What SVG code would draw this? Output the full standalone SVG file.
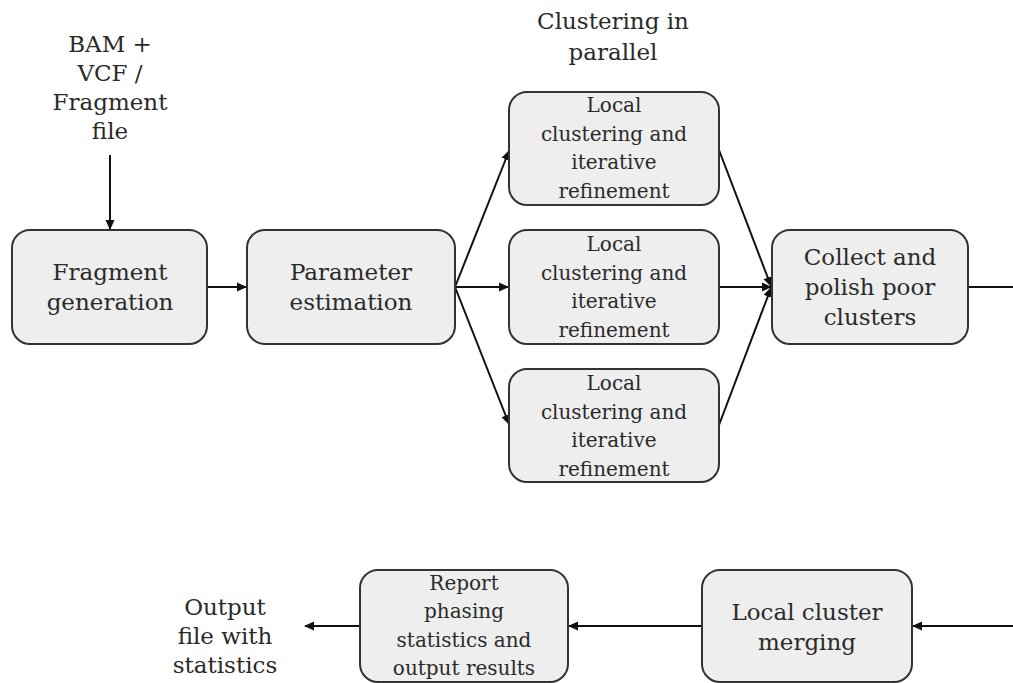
<svg xmlns="http://www.w3.org/2000/svg" width="1013" height="683" viewBox="0 0 1013 683">
<defs>
<style>
.box{fill:#eeeeee;stroke:#333;stroke-width:2}
text{font-family:"DejaVu Serif","Liberation Serif",serif;fill:#2a2a2a;text-anchor:middle}
.big{font-size:23px}
.sm{font-size:20px}
.c{stroke:#111;stroke-width:2;fill:none}
</style>
<marker id="a" markerWidth="10" markerHeight="10" refX="9" refY="5" orient="auto" markerUnits="userSpaceOnUse"><path d="M0,0.5 L10,5 L0,9.5 Z" fill="#111"/></marker>
</defs>
<g id="connectors">
<line class="c" x1="110" y1="155" x2="110" y2="229" marker-end="url(#a)"/>
<line class="c" x1="207" y1="287" x2="246" y2="287" marker-end="url(#a)"/>
<line class="c" x1="455" y1="287" x2="509" y2="151" marker-end="url(#a)"/>
<line class="c" x1="455" y1="287" x2="508" y2="287" marker-end="url(#a)"/>
<line class="c" x1="455" y1="287" x2="509" y2="424" marker-end="url(#a)"/>
<line class="c" x1="719" y1="150" x2="771" y2="286" marker-end="url(#a)"/>
<line class="c" x1="719" y1="287" x2="771" y2="287" marker-end="url(#a)"/>
<line class="c" x1="719" y1="425" x2="771" y2="288" marker-end="url(#a)"/>
<line class="c" x1="968" y1="287" x2="1013" y2="287"/>
<line class="c" x1="1013" y1="626" x2="913" y2="626" marker-end="url(#a)"/>
<line class="c" x1="702" y1="626" x2="569" y2="626" marker-end="url(#a)"/>
<line class="c" x1="360" y1="626" x2="305" y2="626" marker-end="url(#a)"/>
</g>
<g id="input">
<text class="big"><tspan x="110" y="52">BAM +</tspan><tspan x="110" y="81">VCF /</tspan><tspan x="110" y="110">Fragment</tspan><tspan x="110" y="139">file</tspan></text>
</g>
<g id="parallel-label">
<text class="big"><tspan x="613" y="29">Clustering in</tspan><tspan x="613" y="60">parallel</tspan></text>
</g>
<g id="fragment-generation">
<rect class="box" x="12" y="230" width="195" height="114" rx="18"/>
<text class="big"><tspan x="110" y="280">Fragment</tspan><tspan x="110" y="310">generation</tspan></text>
</g>
<g id="parameter-estimation">
<rect class="box" x="247" y="230" width="208" height="114" rx="18"/>
<text class="big"><tspan x="351" y="280">Parameter</tspan><tspan x="351" y="310">estimation</tspan></text>
</g>
<g id="local1">
<rect class="box" x="509" y="92" width="210" height="113" rx="18"/>
<text class="sm"><tspan x="614" y="112">Local</tspan><tspan x="614" y="141">clustering and</tspan><tspan x="614" y="169">iterative</tspan><tspan x="614" y="198">refinement</tspan></text>
</g>
<g id="local2">
<rect class="box" x="509" y="230" width="210" height="114" rx="18"/>
<text class="sm"><tspan x="614" y="251">Local</tspan><tspan x="614" y="280">clustering and</tspan><tspan x="614" y="308">iterative</tspan><tspan x="614" y="337">refinement</tspan></text>
</g>
<g id="local3">
<rect class="box" x="509" y="369" width="210" height="113" rx="18"/>
<text class="sm"><tspan x="614" y="390">Local</tspan><tspan x="614" y="419">clustering and</tspan><tspan x="614" y="447">iterative</tspan><tspan x="614" y="476">refinement</tspan></text>
</g>
<g id="collect">
<rect class="box" x="772" y="230" width="196" height="114" rx="18"/>
<text class="big"><tspan x="870" y="265">Collect and</tspan><tspan x="870" y="295">polish poor</tspan><tspan x="870" y="325">clusters</tspan></text>
</g>
<g id="merging">
<rect class="box" x="702" y="570" width="210" height="112" rx="18"/>
<text class="big"><tspan x="807" y="620">Local cluster</tspan><tspan x="807" y="650">merging</tspan></text>
</g>
<g id="report">
<rect class="box" x="360" y="570" width="208" height="112" rx="18"/>
<text class="sm"><tspan x="464" y="590">Report</tspan><tspan x="464" y="618">phasing</tspan><tspan x="464" y="647">statistics and</tspan><tspan x="464" y="675">output results</tspan></text>
</g>
<g id="output">
<text class="big"><tspan x="225" y="615">Output</tspan><tspan x="225" y="644">file with</tspan><tspan x="225" y="673">statistics</tspan></text>
</g>
</svg>
